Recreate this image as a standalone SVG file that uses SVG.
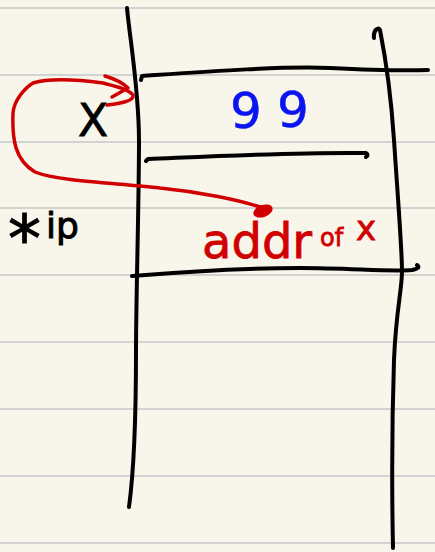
<svg xmlns="http://www.w3.org/2000/svg" width="435" height="552" viewBox="0 0 435 552">
<style>
.rule{stroke:#d2d2d2;stroke-width:2;fill:none}
.ink{stroke:#000;stroke-width:4;fill:none;stroke-linecap:round;stroke-linejoin:round}
.red{stroke:#d10000;stroke-width:3.5;fill:none;stroke-linecap:round;stroke-linejoin:round}
.hand{font-family:"DejaVu Sans","Noto Sans",sans-serif}
</style>
<rect width="435" height="552" fill="#f8f6eb"/>
<g id="paper">
<path class="rule" d="M0,8H435M0,75H435M0,142H435M0,208H435M0,275H435M0,342H435M0,409H435M0,476H435M0,543H435"/>
</g>
<g id="memory-table">
<path class="ink" d="M127,8 C130,40 139,90 139,141 C139,200 136,300 136,352 C136,420 134,470 129,507"/>
<path class="ink" d="M374,38 C373,30 379,26 380,30 C383,45 390,80 394,140 C398,200 402,250 402,271 C402,290 396,310 394,360 C392,420 392,500 393,548"/>
<path class="ink" d="M141,80 L142,76 C200,72 280,66 330,68 C370,70 400,71 428,70"/>
<path class="ink" d="M146,161 L148,159 C220,156 300,152 366,153 C368,154 368,156 366,157"/>
<path class="ink" d="M132,276 C180,272 240,268 300,268 C350,268 390,272 412,270 C418,269 420,267 417,265"/>
</g>
<g id="label-x">
<text class="hand" x="78" y="136" font-size="44" fill="#000" stroke="#000" stroke-width="0.8">X</text>
</g>
<g id="label-ip">
<text class="hand" fill="#000" stroke="#000" stroke-width="1"><tspan x="8" y="262" font-size="66">*</tspan><tspan x="46" y="238" font-size="36">ip</tspan></text>
</g>
<g id="value-99">
<text class="hand" font-size="50" fill="#0a14f0" stroke="#0a14f0" stroke-width="0.5"><tspan x="230" y="128">9</tspan><tspan x="277" y="127">9</tspan></text>
</g>
<g id="value-addr">
<text class="hand" fill="#d10000" stroke="#d10000" stroke-width="0.8"><tspan x="202" y="258" font-size="48">addr</tspan><tspan x="320" y="246" font-size="24">of</tspan><tspan x="356" y="240" font-size="34">x</tspan></text>
</g>
<g id="connectors">
<ellipse cx="263" cy="211" rx="10" ry="6" transform="rotate(-20 263 211)" fill="#d10000"/>
<path class="red" d="M263,208 C240,200 200,192 160,188 C120,183 60,182 35,172 C15,160 12,140 13,113 C14,100 25,88 33,83 C50,78 80,80 103,83 C115,86 128,89 133,95 C134,100 125,103 107,105"/>
<path class="red" d="M105,76 C115,79 124,84 128,88 L112,97"/>
</g>
</svg>
